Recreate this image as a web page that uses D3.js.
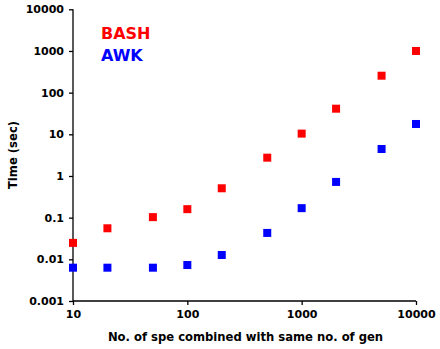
<!DOCTYPE html>
<html><head><meta charset="utf-8">
<script src="https://cdn.jsdelivr.net/npm/d3@7"></script>
<style>body{margin:0;background:#fff}svg{display:block}</style>
</head><body>
<svg id="c" width="440" height="349"></svg>
<script>
const xValues = [10, 20, 50, 100, 200, 500, 1000, 2000, 5000, 10000];
const bashTimes = [0.0248, 0.0556, 0.103, 0.16, 0.507, 2.75, 10.4, 41.2, 255, 1000];
const awkTimes = [0.0063, 0.0063, 0.0063, 0.0073, 0.0127, 0.043, 0.169, 0.72, 4.44, 17.7];
const xTicks = [10, 100, 1000, 10000];
const yTicks = [0.001, 0.01, 0.1, 1, 10, 100, 1000, 10000];
const seriesNames = ["BASH", "AWK"];
const seriesColors = ["#ff0000", "#0000ff"];

const svg = d3.select("#c");
const m = {left: 73, right: 416, top: 9.3, bottom: 301};
const x = d3.scaleLog().domain([10, 10000]).range([m.left, m.right]);
const y = d3.scaleLog().domain([0.001, 10000]).range([m.bottom, m.top]);
const font = "'DejaVu Sans', sans-serif";

const xAxis = d3.axisBottom(x).tickValues(xTicks).tickFormat(d3.format("d")).tickSize(4).tickPadding(5);
const yAxis = d3.axisLeft(y).tickValues(yTicks).tickFormat(d => d < 1 ? String(d) : d3.format("d")(d)).tickSize(4).tickPadding(5);

const gx = svg.append("g").attr("transform", `translate(0,${m.bottom})`).call(xAxis);
const gy = svg.append("g").attr("transform", `translate(${m.left},0)`).call(yAxis);
[gx, gy].forEach(g => {
  g.select(".domain").attr("stroke", "#000").attr("stroke-width", 1.3);
  g.selectAll(".tick line").attr("stroke", "#000").attr("stroke-width", 1.3);
  g.selectAll("text").attr("font-family", font).attr("font-weight", "bold").attr("font-size", 11).attr("fill", "#000");
});
gx.select(".domain").attr("d", `M${m.left},0H${m.right}`);
gy.select(".domain").attr("d", `M0,${m.bottom}V${m.top}`);

svg.append("text").attr("x", 245.5).attr("y", 341)
  .attr("text-anchor", "middle").attr("font-family", font).attr("font-weight", "bold").attr("font-size", 11.6)
  .text("No. of spe combined with same no. of gen");
svg.append("text").attr("transform", "translate(16.5,155) rotate(-90)")
  .attr("text-anchor", "middle").attr("font-family", font).attr("font-weight", "bold").attr("font-size", 11.6)
  .text("Time (sec)");

const s = 8;
[bashTimes, awkTimes].forEach((vals, i) => {
  svg.append("g").selectAll("rect").data(vals).join("rect")
    .attr("x", (d, j) => x(xValues[j]) - s / 2)
    .attr("y", d => y(d) - s / 2)
    .attr("width", s).attr("height", s)
    .attr("fill", seriesColors[i]);
});

seriesNames.forEach((n, i) => {
  svg.append("text").attr("x", 101).attr("y", 39.3 + i * 21.7)
    .attr("font-family", font).attr("font-weight", "bold").attr("font-size", 16).attr("fill", seriesColors[i])
    .text(n);
});
</script>
</body></html>
